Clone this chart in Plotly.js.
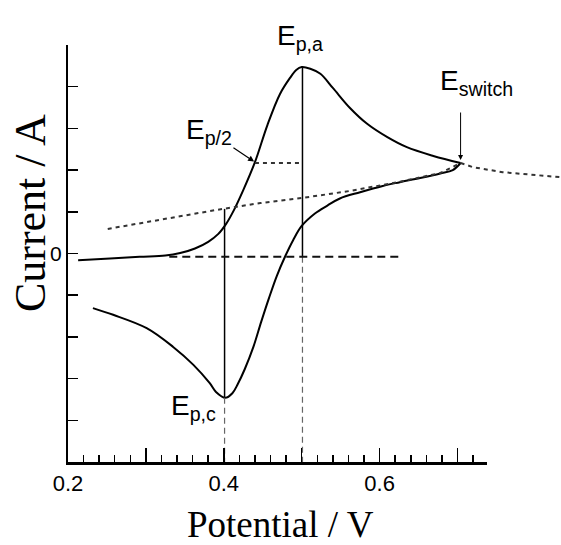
<!DOCTYPE html>
<html>
<head>
<meta charset="utf-8">
<script src="https://cdn.plot.ly/plotly-3.0.1.min.js"></script>
<style>html,body{margin:0;padding:0;background:#fff;}#chart{width:561px;height:545px;}</style>
</head>
<body>
<div id="chart"></div>
<script>
// Forward (anodic) scan
const anodicE = [0.213, 0.254, 0.292, 0.325, 0.344, 0.363, 0.380, 0.393, 0.403, 0.413, 0.425, 0.440, 0.456, 0.472, 0.485, 0.493, 0.500, 0.511, 0.524, 0.540, 0.562, 0.584, 0.610, 0.635, 0.669, 0.704];
const anodicI = [-0.16, -0.12, -0.08, -0.05, 0.01, 0.12, 0.28, 0.47, 0.71, 1.04, 1.52, 2.19, 3.08, 3.82, 4.21, 4.40, 4.47, 4.43, 4.31, 3.97, 3.49, 3.11, 2.79, 2.55, 2.34, 2.17];
// Reverse (cathodic) scan
const cathodicE = [0.704, 0.694, 0.678, 0.652, 0.626, 0.604, 0.575, 0.549, 0.533, 0.517, 0.500, 0.489, 0.479, 0.468, 0.458, 0.448, 0.438, 0.427, 0.418, 0.411, 0.402, 0.390, 0.382, 0.361, 0.335, 0.301, 0.258, 0.232];
const cathodicI = [2.17, 2.00, 1.92, 1.81, 1.71, 1.62, 1.47, 1.32, 1.15, 0.96, 0.66, 0.32, -0.06, -0.54, -1.07, -1.64, -2.24, -2.77, -3.13, -3.35, -3.46, -3.32, -3.11, -2.67, -2.24, -1.79, -1.47, -1.31];
// Extrapolated baseline (dotted)
const baseE = [0.251, 0.386, 0.447, 0.500, 0.562, 0.626, 0.678, 0.704, 0.720, 0.758, 0.832];
const baseI = [0.59, 1.03, 1.21, 1.33, 1.50, 1.72, 1.93, 2.17, 2.07, 1.95, 1.83];
// Half-peak marker
const halfE = [0.440, 0.500];
const halfI = [2.17, 2.17];
// Zero-current reference
const zeroE = [0.330, 0.626];
const zeroI = [-0.08, -0.08];
// Peak potentials and levels
const Epa = 0.501, Ipa = 4.47, IpaBase = -0.08;
const Epc = 0.401, Ipc = -3.46, IpcBase = 1.07;
const yMin = -5;
// Ticks
const xLabelVals = [0.2, 0.4, 0.6];
const xLongVals = [0.3, 0.5, 0.7];
const yLabelVals = [0];
const yLabelText = ['0'];

const narrow = 'Liberation Sans Narrow, Arial Narrow, Liberation Sans, Arial, sans-serif';
const serif = 'Liberation Serif, Times New Roman, serif';

const traces = [
  {x: anodicE, y: anodicI, mode: 'lines', line: {color: '#000', width: 2, shape: 'spline', smoothing: 1}},
  {x: cathodicE, y: cathodicI, mode: 'lines', line: {color: '#000', width: 2, shape: 'spline', smoothing: 1}},
  {x: baseE, y: baseI, mode: 'lines', line: {color: '#333', width: 2, dash: '4px,4px'}},
  {x: halfE, y: halfI, mode: 'lines', line: {color: '#333', width: 2, dash: '4px,4px'}},
  {x: zeroE, y: zeroI, xaxis: 'x2', yaxis: 'y', mode: 'lines', line: {color: '#111', width: 2, dash: '8px,5px'}},
  {x: [Epa, Epa], y: [Ipa, IpaBase], mode: 'lines', line: {color: '#000', width: 1.5}},
  {x: [Epa, Epa], y: [IpaBase, yMin], mode: 'lines', line: {color: '#666', width: 1.2, dash: '6px,4px'}},
  {x: [Epc, Epc], y: [IpcBase, Ipc], mode: 'lines', line: {color: '#000', width: 1.5}},
  {x: [Epc, Epc], y: [Ipc, yMin], mode: 'lines', line: {color: '#666', width: 1.2, dash: '6px,4px'}}
];

const annFont = {family: narrow, size: 28, color: '#000'};
const layout = {
  width: 561, height: 545,
  margin: {l: 68, r: 0, t: 45, b: 83},
  paper_bgcolor: '#fff', plot_bgcolor: 'rgba(0,0,0,0)',
  showlegend: false,
  xaxis: {domain: [0, 1], range: [0.2, 0.8329], showline: false, showticklabels: false,
    ticks: 'inside', tickmode: 'array', tickvals: xLongVals, ticklen: 14, tickwidth: 1.5, tickcolor: '#000',
    showgrid: false, zeroline: false},
  xaxis2: {domain: [0, 0.85], range: [0.2, 0.7379], anchor: 'y', showline: true, linecolor: '#000', linewidth: 3,
    ticks: 'inside', ticklen: 14, tickwidth: 1.5, tickcolor: '#000', tickmode: 'array', tickvals: xLabelVals,
    tickfont: {family: narrow, size: 22, color: '#000'}, ticklabelstandoff: 0,
    minor: {ticks: 'inside', dtick: 0.02, tick0: 0, ticklen: 7, tickwidth: 1.5, tickcolor: '#000'},
    showgrid: false, zeroline: false},
  yaxis: {range: [-5, 5], anchor: 'x', showline: true, linecolor: '#000', linewidth: 2,
    ticks: 'inside', ticklen: 10, tickwidth: 1.5, tickcolor: '#000', tickmode: 'array', tickvals: yLabelVals, ticktext: yLabelText,
    minor: {ticks: 'inside', dtick: 1, tick0: 0, ticklen: 10, tickwidth: 1.5, tickcolor: '#000'},
    tickfont: {family: narrow, size: 21, color: '#000'}, showgrid: false, zeroline: false},
  annotations: [
    {xref: 'x', yref: 'paper', x: 0.4978, y: 1.019, text: 'E<sub>p,a</sub>', showarrow: false, font: annFont, xanchor: 'center', yanchor: 'middle'},
    {xref: 'x', yref: 'y', x: 0.440, y: 2.19, text: 'E<sub>p/2</sub>', showarrow: true, ax: -46, ay: -31, arrowhead: 2, arrowsize: 1, arrowwidth: 1.2, arrowcolor: '#000', standoff: 1, font: annFont},
    {xref: 'x', yref: 'y', x: 0.725, y: 4.11, text: 'E<sub>switch</sub>', showarrow: false, font: annFont, xanchor: 'center', yanchor: 'middle'},
    {xref: 'x', yref: 'y', x: 0.704, y: 2.17, text: '', showarrow: true, ax: 0, ay: -52, arrowhead: 2, arrowsize: 1, arrowwidth: 1, arrowcolor: '#000', standoff: 3},
    {xref: 'x', yref: 'y', x: 0.3617, y: -3.70, text: 'E<sub>p,c</sub>', showarrow: false, font: annFont, xanchor: 'center', yanchor: 'middle'},
    {xref: 'paper', yref: 'paper', x: 0.432, y: -0.150, text: 'Potential / V', showarrow: false, font: {family: serif, size: 37, color: '#000'}, xanchor: 'center', yanchor: 'middle'},
    {xref: 'paper', yref: 'paper', x: -0.077, y: 0.597, text: 'Current / A', textangle: -90, showarrow: false, font: {family: serif, size: 44, color: '#000'}, xanchor: 'center', yanchor: 'middle'}
  ]
};

Plotly.newPlot('chart', traces, layout, {staticPlot: true, displayModeBar: false});
</script>
</body>
</html>
